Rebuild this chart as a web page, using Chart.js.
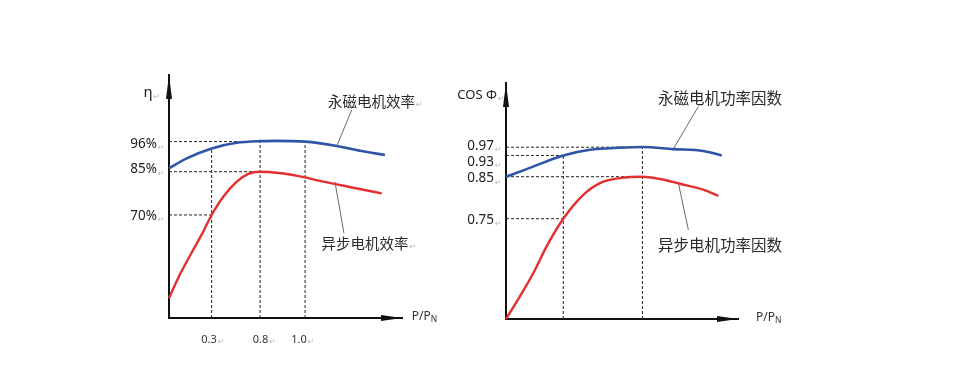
<!DOCTYPE html>
<html><head><meta charset="utf-8">
<script src="https://cdn.jsdelivr.net/npm/chart.js@4/dist/chart.umd.min.js"></script>
<style>
html,body{margin:0;padding:0;background:#fff;width:960px;height:382px;overflow:hidden}
#w1{position:absolute;left:0;top:0;width:440px;height:382px}
#w2{position:absolute;left:440px;top:0;width:520px;height:382px}
</style></head><body>
<div id="w1"><canvas id="c1"></canvas></div>
<div id="w2"><canvas id="c2"></canvas></div>
<script>
// ===== Left panel: efficiency η vs load P/PN (schematic, axis-percent units) =====
const effPmX = [0, 7.6, 18.3, 29.1, 39.1, 46.2, 58.4, 72.0, 82.0, 92.7];
const effPmY = [61.6, 65.7, 69.8, 72.1, 72.8, 72.9, 72.6, 70.8, 68.8, 67.1];
const effImX = [0, 4.0, 9.0, 14.0, 18.3, 23.3, 29.1, 34.0, 39.1, 46.2, 58.4, 64.8, 72.0, 79.1, 91.3];
const effImY = [8.1, 16.6, 25.6, 34.3, 42.4, 49.9, 56.1, 59.3, 60.2, 59.8, 57.9, 56.4, 55.0, 53.6, 51.3];
const effLevels = [72.6, 60.2, 42.4];
const effLevelEnds = [58.4, 39.1, 18.3];
const effLoads = [18.3, 39.1, 58.4];
const effLoadTops = [69.8, 72.6, 72.6];
const effTickLabels = ['96%', '85%', '70%'];
const effTickPos = [71.5, 61.1, 42.0];
const loadTickLabels = ['0.3', '0.8', '1.0'];
const loadTickPos = [17.2, 39.3, 55.8];
const effNotes = ['永磁电机效率', '异步电机效率'];
const effNoteX = [68.2, 65.5];
const effNoteY = [89.3, 30.7];
const effLeadX1 = [78.4, 71.2], effLeadY1 = [85.6, 56.1];
const effLeadX2 = [72.2, 75.1], effLeadY2 = [71.2, 34.9];

// ===== Right panel: power factor cosΦ vs load =====
const pfPmX = [0, 8.9, 24.7, 36.2, 49.1, 58.8, 72.1, 85.0, 93.0];
const pfPmY = [60.3, 63.5, 69.3, 71.7, 72.6, 72.9, 72.0, 71.2, 69.3];
const pfImX = [0, 6.0, 11.8, 17.5, 24.7, 33.3, 40.5, 49.1, 58.8, 66.4, 75.0, 85.0, 91.5];
const pfImY = [0, 9.6, 19.5, 30.8, 42.5, 52.6, 57.6, 59.7, 60.3, 59.3, 57.3, 54.8, 52.2];
const pfLevels = [72.8, 69.3, 60.3, 42.5];
const pfLevelEnds = [58.8, 24.7, 58.8, 24.7];
const pfLoads = [24.7, 58.8];
const pfLoadTops = [69.3, 72.8];
const pfTickLabels = ['0.97', '0.93', '0.85', '0.75'];
const pfTickPos = [73.4, 66.4, 59.5, 41.9];
const pfNotes = ['永磁电机功率因数', '异步电机功率因数'];
const pfNoteX = [65.5, 65.5];
const pfNoteY = [93.5, 31.5];
const pfLeadX1 = [82.9, 74.3], pfLeadY1 = [90.0, 57.6];
const pfLeadX2 = [72.1, 78.6], pfLeadY2 = [72.0, 37.8];

const BLUE = '#2f55a6', RED = '#e3302f', INK = '#222', RET = '#b5b5b5';
const LATIN = '"Noto Sans", "Open Sans", sans-serif';
const CJK = '"Noto Sans CJK SC", sans-serif';

function pts(xs, ys) { return xs.map((x, i) => ({x: x, y: ys[i]})); }

function build(id, o) {
  const ds = [];
  o.levels.forEach((lv, i) => ds.push({data: [{x: 0, y: lv}, {x: o.levelEnds[i], y: lv}], borderColor: INK, borderWidth: 1, borderDash: [3, 2], pointRadius: 0, order: 3}));
  o.loads.forEach((ld, i) => ds.push({data: [{x: ld, y: 0}, {x: ld, y: o.loadTops[i]}], borderColor: INK, borderWidth: 1, borderDash: [3, 2], pointRadius: 0, order: 3}));
  o.leadX1.forEach((x, i) => ds.push({data: [{x: x, y: o.leadY1[i]}, {x: o.leadX2[i], y: o.leadY2[i]}], borderColor: '#444', borderWidth: 0.8, pointRadius: 0, order: 2}));
  ds.push({data: pts(o.pmX, o.pmY), borderColor: BLUE, borderWidth: 2.6, pointRadius: 0, cubicInterpolationMode: 'monotone', clip: false, order: 0});
  ds.push({data: pts(o.imX, o.imY), borderColor: RED, borderWidth: 2.4, pointRadius: 0, cubicInterpolationMode: 'monotone', clip: false, order: 0});

  const deco = {
    id: 'deco' + id,
    afterDraw(chart) {
      const ctx = chart.ctx, a = chart.chartArea, xs = chart.scales.x, ys = chart.scales.y;
      ctx.save();
      // arrow heads on axes
      ctx.fillStyle = '#111';
      ctx.beginPath(); ctx.moveTo(a.left, a.top); ctx.lineTo(a.left - 3, a.top + 24); ctx.lineTo(a.left + 3, a.top + 24); ctx.closePath(); ctx.fill();
      ctx.beginPath(); ctx.moveTo(a.right, a.bottom); ctx.lineTo(a.right - 21, a.bottom - 3); ctx.lineTo(a.right - 21, a.bottom + 3); ctx.closePath(); ctx.fill();
      // annotations
      ctx.textBaseline = 'middle'; ctx.textAlign = 'left';
      o.notes.forEach((t, i) => {
        const px = xs.getPixelForValue(o.noteX[i]), py = ys.getPixelForValue(o.noteY[i]);
        ctx.font = o.noteFont; ctx.fillStyle = '#2a2a2a';
        ctx.fillText(t, px, py);
        if (o.noteRet) { const w = ctx.measureText(t).width; ctx.font = '8px "DejaVu Sans"'; ctx.fillStyle = RET; ctx.fillText('↵', px + w + 1, py + 4); }
      });
      // axis titles
      ctx.font = o.yTitleFont; ctx.fillStyle = INK; ctx.textAlign = o.yTitleAlign;
      const tx = xs.getPixelForValue(o.yTitleX), ty = ys.getPixelForValue(o.yTitleY);
      ctx.fillText(o.yTitle, tx, ty);
      const tw = ctx.measureText(o.yTitle).width;
      ctx.font = '8px "DejaVu Sans"'; ctx.fillStyle = RET; ctx.textAlign = 'left';
      ctx.fillText('↵', o.yTitleAlign === 'center' ? tx + tw / 2 + 1 : tx + 1, ty + 4);
      // P/PN
      const qx = xs.getPixelForValue(o.pnX), qy = ys.getPixelForValue(o.pnY);
      ctx.font = '12px ' + LATIN; ctx.fillStyle = '#333'; ctx.textAlign = 'left';
      ctx.fillText('P/P', qx, qy);
      const pw = ctx.measureText('P/P').width;
      ctx.font = '8.5px ' + LATIN; ctx.fillText('N', qx + pw, qy + 3);
      // paragraph marks after tick labels
      ctx.font = '8px "DejaVu Sans"'; ctx.fillStyle = RET;
      o.yTickPos.forEach((v) => { ctx.fillText('↵', a.left - 12 + 1, ys.getPixelForValue(v) + 4); });
      if (o.xTickLabels.length) {
        o.xTickPos.forEach((v, i) => {
          ctx.font = '11px ' + LATIN;
          const w = ctx.measureText(o.xTickLabels[i]).width;
          ctx.font = '8px "DejaVu Sans"';
          ctx.fillText('↵', xs.getPixelForValue(v) + w / 2 + 1, a.bottom + 14 + 7 + 3);
        });
      }
      ctx.restore();
    }
  };

  return new Chart(document.getElementById(id), {
    type: 'line',
    data: {datasets: ds},
    options: {
      responsive: true, maintainAspectRatio: false, animation: false, devicePixelRatio: 1,
      layout: {padding: {left: 0, top: o.padTop, right: o.padRight, bottom: 0}},
      plugins: {legend: {display: false}, tooltip: {enabled: false}},
      elements: {line: {tension: 0}},
      scales: {
        x: {type: 'linear', position: 'bottom', min: 0, max: 100,
            grid: {display: false, drawTicks: false},
            border: {display: true, color: '#111', width: 2},
            afterBuildTicks: s => { s.ticks = o.xTickPos.map(v => ({value: v})); },
            afterFit: s => { s.height = o.xHeight; },
            ticks: {display: o.xTickLabels.length > 0, autoSkip: false, maxRotation: 0, padding: 15, color: '#333',
                    font: {family: LATIN, size: 11}, callback: (v, i) => o.xTickLabels[i]}},
        y: {type: 'linear', position: 'left', min: 0, max: 100,
            grid: {display: false, drawTicks: false},
            border: {display: true, color: '#111', width: 2},
            afterBuildTicks: s => { s.ticks = o.yTickPos.map(v => ({value: v})); },
            afterFit: s => { s.width = o.yWidth; },
            ticks: {autoSkip: false, padding: 12, color: INK, font: {family: LATIN, size: 13.5},
                    callback: (v, i) => o.yTickLabels[i]}}
      }
    },
    plugins: [deco]
  });
}

build('c1', {
  pmX: effPmX, pmY: effPmY, imX: effImX, imY: effImY,
  levels: effLevels, levelEnds: effLevelEnds, loads: effLoads, loadTops: effLoadTops,
  leadX1: effLeadX1, leadY1: effLeadY1, leadX2: effLeadX2, leadY2: effLeadY2,
  yTickLabels: effTickLabels, yTickPos: effTickPos, xTickLabels: loadTickLabels, xTickPos: loadTickPos,
  notes: effNotes, noteX: effNoteX, noteY: effNoteY, noteFont: '14.5px ' + CJK, noteRet: true,
  yTitle: 'η', yTitleX: -9.0, yTitleY: 92.6, yTitleAlign: 'center', yTitleFont: '15px ' + LATIN,
  pnX: 104.2, pnY: 0.4,
  padTop: 75, padRight: 38, yWidth: 169, xHeight: 64
});

build('c2', {
  pmX: pfPmX, pmY: pfPmY, imX: pfImX, imY: pfImY,
  levels: pfLevels, levelEnds: pfLevelEnds, loads: pfLoads, loadTops: pfLoadTops,
  leadX1: pfLeadX1, leadY1: pfLeadY1, leadX2: pfLeadX2, leadY2: pfLeadY2,
  yTickLabels: pfTickLabels, yTickPos: pfTickPos, xTickLabels: [], xTickPos: [],
  notes: pfNotes, noteX: pfNoteX, noteY: pfNoteY, noteFont: '15.5px ' + CJK, noteRet: false,
  yTitle: 'COS Φ', yTitleX: -3.9, yTitleY: 94.9, yTitleAlign: 'right', yTitleFont: '13px ' + LATIN,
  pnX: 107.8, pnY: 0.6,
  padTop: 83, padRight: 222, yWidth: 66, xHeight: 63
});
</script>
</body></html>
